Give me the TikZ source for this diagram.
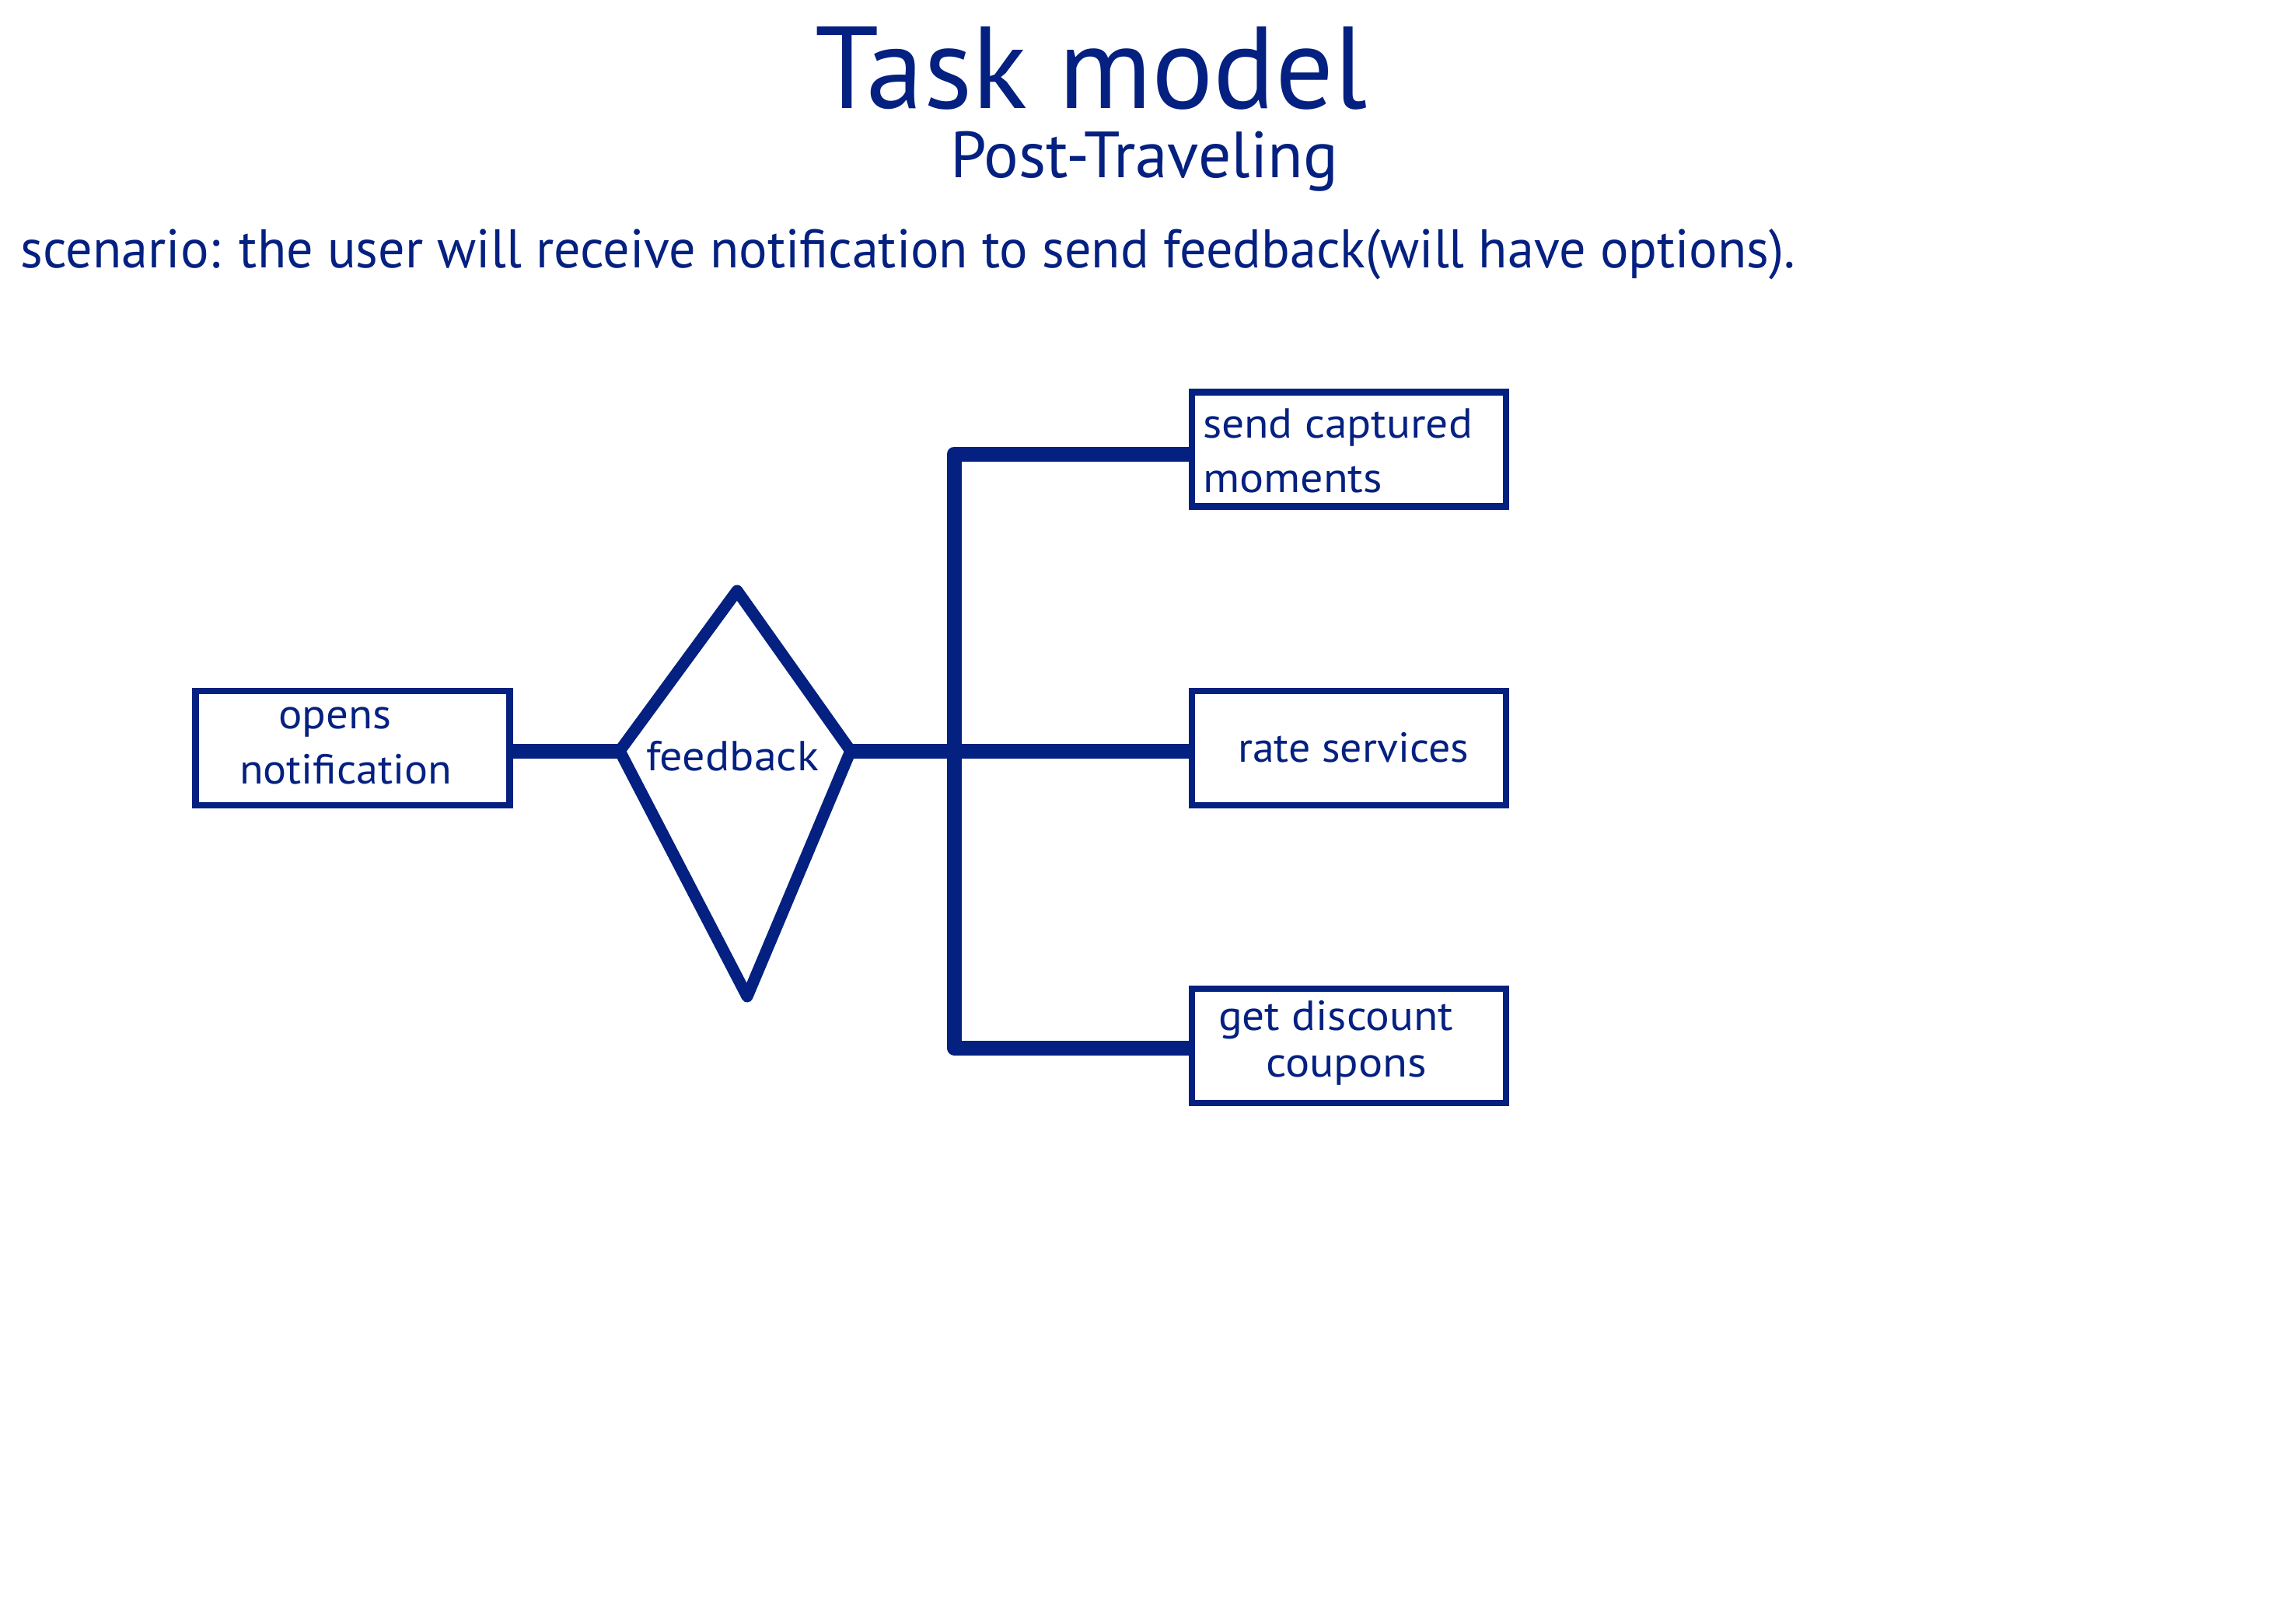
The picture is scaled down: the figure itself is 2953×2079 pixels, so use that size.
\documentclass[tikz,border=0pt]{standalone}
\usepackage{fontspec}
\setmainfont{PT Sans}
\usepackage{graphicx}
\definecolor{navy}{RGB}{4,32,128}
\newcommand\fitw[2]{\resizebox{#1}{\height}{#2}}
\begin{document}
\begin{tikzpicture}[x=1pt,y=-1pt,
  every node/.style={text=navy, inner sep=0pt, outer sep=0pt},
  box/.style={draw=navy, line width=8.5pt, rectangle, minimum width=404pt, minimum height=147pt},
  link/.style={draw=navy, line width=19pt},
  lbl/.style={anchor=base west, font=\fontsize{54pt}{60pt}\selectfont}]
\useasboundingbox (0,0) rectangle (2953,2079);
\fill[white] (0,0) rectangle (2953,2079);
% titles
\node[anchor=base west, font=\fontsize{150pt}{160pt}\selectfont] (title) at (1048,140) {\fitw{711pt}{Task model}};
\node[anchor=base west, font=\fontsize{84pt}{90pt}\selectfont] (sub) at (1222,228) {\fitw{499pt}{Post-Traveling}};
\node[anchor=base west, font=\fontsize{70pt}{76pt}\selectfont] (scen) at (27,344) {\fitw{2282pt}{scenario: the user will receive notification to send feedback(will have options).}};
% boxes
\node[box] (opens) at (453.5,962.5) {};
\node[box] (top) at (1735,578) {};
\node[box] (mid) at (1735,962.5) {};
\node[box] (bot) at (1735,1345.5) {};
% diamond
\coordinate (dl) at (797,966);
\coordinate (dt) at (948,760);
\coordinate (dr) at (1094,966);
\coordinate (db) at (961,1282);
\draw[navy, line width=15pt, line join=round] (dl) -- (dt) -- (dr) -- (db) -- cycle;
% connectors
\coordinate (bt) at (1227,584);
\coordinate (bb) at (1227,1348);
\draw[link] (opens.east |- dl) -- (dl);
\draw[link] (dr) -- (dr -| mid.west);
\draw[link, line join=round] (top.west |- bt) -- (bt) -- (bb) -- (bot.west |- bb);
% labels
\node[lbl] (t1) at (358,937) {\fitw{145pt}{opens}};
\node[lbl] (t2) at (308,1008) {\fitw{273pt}{notification}};
\node[lbl] (t3) at (831,991) {\fitw{222pt}{feedback}};
\node[lbl] (t4) at (1547,563) {\fitw{347pt}{send captured}};
\node[lbl] (t5) at (1547,633) {\fitw{231pt}{moments}};
\node[lbl] (t6) at (1592,980) {\fitw{297pt}{rate services}};
\node[lbl] (t7) at (1567,1325) {\fitw{302pt}{get discount}};
\node[lbl] (t8) at (1628,1385) {\fitw{207pt}{coupons}};
\end{tikzpicture}
\end{document}
